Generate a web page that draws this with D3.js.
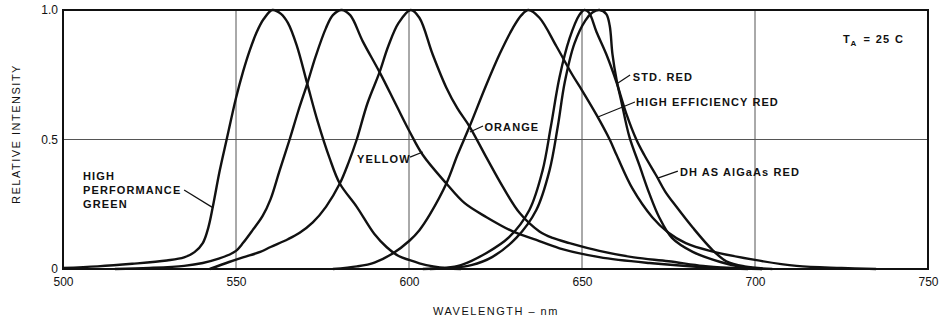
<!DOCTYPE html>
<html>
<head>
<meta charset="utf-8">
<script src="https://cdn.jsdelivr.net/npm/d3@7"></script>
<style>
  body { margin: 0; background: #fff; }
  text { font-family: "Liberation Sans", Arial, sans-serif; fill: #111; }
</style>
</head>
<body>
<svg id="chart" width="940" height="321"></svg>
<script>
// wavelength ticks and relative intensity ticks
const xTicks = [500, 550, 600, 650, 700, 750];
const yTicks = [0, 0.5, 1];
const yTickLabels = ["0", "0.5", "1.0"];
const xGrid = [550, 600, 650, 700];
const yGrid = [0.5];

// spectra (nm, relative intensity)
const greenNm  = [500, 510, 520, 530, 535, 538, 540.4, 542, 543.3, 545.3, 547.3, 550, 552, 554, 556, 558, 560.5, 563, 565, 567.5, 570.7, 573.6, 577, 580, 584.9, 590, 593.5, 597, 600, 603, 607, 611, 615];
const greenRel = [0.004, 0.01, 0.02, 0.033, 0.045, 0.065, 0.10, 0.16, 0.24, 0.38, 0.5, 0.66, 0.76, 0.845, 0.915, 0.965, 1.0, 0.985, 0.95, 0.865, 0.71, 0.57, 0.43, 0.33, 0.24, 0.135, 0.085, 0.05, 0.035, 0.022, 0.01, 0.003, 0];

const yellowNm  = [515, 525, 535, 540.4, 545, 548, 550, 552, 554.8, 557.7, 560, 562.6, 565.5, 568, 570.7, 573, 576, 578, 580.5, 583, 586.6, 591.5, 596.4, 600.2, 604, 610.8, 616, 622.4, 630, 636.8, 643.5, 655, 669.5, 684, 698];
const yellowRel = [0, 0.004, 0.012, 0.023, 0.04, 0.055, 0.07, 0.1, 0.15, 0.205, 0.27, 0.38, 0.5, 0.61, 0.72, 0.82, 0.93, 0.98, 1.0, 0.98, 0.88, 0.76, 0.63, 0.53, 0.44, 0.33, 0.255, 0.2, 0.145, 0.112, 0.08, 0.046, 0.023, 0.008, 0];

const orangeNm  = [542.4, 548, 552, 557, 560, 565, 568.4, 572.2, 576, 580, 582.5, 584.9, 588, 591.5, 594, 597, 600.5, 603, 606.8, 610.8, 614, 617.5, 622.4, 627, 632, 637.7, 641.5, 646.4, 655, 665, 675, 685, 692, 702];
const orangeRel = [0, 0.027, 0.045, 0.066, 0.085, 0.115, 0.14, 0.18, 0.24, 0.33, 0.41, 0.5, 0.64, 0.76, 0.86, 0.95, 1.0, 0.97, 0.83, 0.70, 0.62, 0.55, 0.43, 0.32, 0.216, 0.145, 0.12, 0.1, 0.07, 0.045, 0.03, 0.012, 0.005, 0];

const herNm  = [578, 585, 590, 595.3, 600.2, 603, 606, 610.8, 614, 617.5, 622, 626.2, 630, 632.5, 634.5, 637.7, 642.6, 647.2, 650, 654.2, 658, 660, 664.6, 670.3, 675, 680, 687, 700, 712, 725, 735];
const herRel = [0, 0.01, 0.025, 0.06, 0.11, 0.15, 0.21, 0.33, 0.44, 0.55, 0.7, 0.83, 0.93, 0.98, 1.0, 0.97, 0.86, 0.75, 0.69, 0.595, 0.5, 0.44, 0.31, 0.2, 0.14, 0.1, 0.07, 0.035, 0.012, 0.004, 0];

const dhNm  = [604, 610, 615, 622.4, 629, 634.8, 638.6, 641, 643.5, 646.4, 649.2, 650.7, 652, 654.2, 657, 660, 662.8, 665.7, 668, 671.5, 674, 677.3, 682, 687.6, 691.7, 697, 705];
const dhRel = [0, 0.004, 0.015, 0.062, 0.124, 0.228, 0.38, 0.55, 0.74, 0.89, 0.98, 1.0, 0.99, 0.915, 0.83, 0.72, 0.6, 0.5, 0.44, 0.36, 0.3, 0.24, 0.16, 0.075, 0.03, 0.01, 0];

const stdNm  = [606, 612, 618, 624, 631, 636.8, 640.6, 643, 645, 647.8, 651, 653, 655, 657, 658, 658.8, 660, 661.4, 663.7, 666.6, 669.5, 672.3, 676, 682, 690, 696, 702];
const stdRel = [0, 0.004, 0.015, 0.046, 0.12, 0.228, 0.38, 0.55, 0.72, 0.87, 0.96, 0.99, 1.0, 0.985, 0.94, 0.83, 0.73, 0.645, 0.51, 0.4, 0.29, 0.2, 0.12, 0.066, 0.027, 0.008, 0];

const series = [
  [greenNm, greenRel], [yellowNm, yellowRel], [orangeNm, orangeRel],
  [herNm, herRel], [dhNm, dhRel], [stdNm, stdRel]
].map(([nm, rel]) => nm.map((w, i) => ({ nm: w, rel: rel[i] })));

const svg = d3.select("#chart");
const plotLeft = 63, plotRight = 928, plotTop = 10, plotBottom = 269;

const x = d3.scaleLinear().domain([500, 750]).range([plotLeft, plotRight]);
const y = d3.scaleLinear().domain([0, 1]).range([plotBottom, plotTop]);

svg.append("rect").attr("width", 940).attr("height", 321).attr("fill", "#fff");

// grid
svg.append("g").selectAll("line").data(xGrid).join("line")
  .attr("x1", d => x(d)).attr("x2", d => x(d))
  .attr("y1", plotTop).attr("y2", plotBottom)
  .attr("stroke", "#555").attr("stroke-width", 1);
svg.append("g").selectAll("line").data(yGrid).join("line")
  .attr("x1", plotLeft).attr("x2", plotRight)
  .attr("y1", d => y(d)).attr("y2", d => y(d))
  .attr("stroke", "#555").attr("stroke-width", 1);

// axes (labels only, frame drawn separately)
const xAxis = svg.append("g")
  .attr("transform", `translate(0,${plotBottom})`)
  .call(d3.axisBottom(x).tickValues(xTicks).tickSize(0).tickPadding(8.5).tickFormat(d3.format("d")));
const yAxis = svg.append("g")
  .attr("transform", `translate(${plotLeft},0)`)
  .call(d3.axisLeft(y).tickValues(yTicks).tickSize(0).tickPadding(5)
    .tickFormat((d, i) => yTickLabels[i]));
[xAxis, yAxis].forEach(g => {
  g.select(".domain").remove();
  g.selectAll("text").attr("font-size", 12).attr("fill", "#111")
    .style("font-family", "'Liberation Sans', Arial, sans-serif");
});

// curves
const line = d3.line()
  .x(d => x(d.nm)).y(d => y(d.rel))
  .curve(d3.curveCatmullRom.alpha(0.5));

svg.append("g").selectAll("path").data(series).join("path")
  .attr("d", line)
  .attr("fill", "none")
  .attr("stroke", "#111")
  .attr("stroke-width", 2.4)
  .attr("stroke-linejoin", "round");

// frame
svg.append("rect")
  .attr("x", plotLeft).attr("y", plotTop)
  .attr("width", plotRight - plotLeft).attr("height", plotBottom - plotTop)
  .attr("fill", "none").attr("stroke", "#111").attr("stroke-width", 2);

// annotations in data units: label lines and leader lines
const labels = [
  { lines: ["HIGH", "PERFORMANCE", "GREEN"], nm: 505.8, rel: 0.344, lead: [[535, 0.305], [543.4, 0.236]] },
  { lines: ["YELLOW"], nm: 585, rel: 0.41, lead: [[600.3, 0.432], [604, 0.452]] },
  { lines: ["ORANGE"], nm: 621.8, rel: 0.533, lead: [[621.4, 0.552], [617.6, 0.529]] },
  { lines: ["STD. RED"], nm: 664.7, rel: 0.726, lead: [[663.9, 0.749], [660.4, 0.718]] },
  { lines: ["HIGH EFFICIENCY RED"], nm: 665.6, rel: 0.629, lead: [[665.3, 0.645], [654.6, 0.587]] },
  { lines: ["DH AS AlGaAs RED"], nm: 678.3, rel: 0.359, lead: [[677.7, 0.378], [671.9, 0.351]] }
];

const ann = svg.append("g");
labels.forEach(l => {
  const t = ann.append("text")
    .attr("x", x(l.nm)).attr("y", y(l.rel))
    .attr("font-size", 11).attr("font-weight", "bold")
    .attr("letter-spacing", 1.1);
  l.lines.forEach((s, i) => {
    t.append("tspan").attr("x", x(l.nm)).attr("dy", i === 0 ? 0 : 14).text(s);
  });
  ann.append("line")
    .attr("x1", x(l.lead[0][0])).attr("y1", y(l.lead[0][1]))
    .attr("x2", x(l.lead[1][0])).attr("y2", y(l.lead[1][1]))
    .attr("stroke", "#111").attr("stroke-width", 1.2);
});

// T_A = 25 C
const ta = ann.append("text")
  .attr("x", x(725.4)).attr("y", y(0.873))
  .attr("font-size", 11).attr("font-weight", "bold").attr("letter-spacing", 1);
ta.append("tspan").text("T");
ta.append("tspan").attr("font-size", 8).attr("dy", 3).text("A");
ta.append("tspan").attr("dy", -3).attr("dx", 6).text("=");
ta.append("tspan").attr("dx", 5).text("25");
ta.append("tspan").attr("dx", 5).text("C");

// axis titles
svg.append("text")
  .attr("x", 496).attr("y", 315)
  .attr("text-anchor", "middle")
  .attr("font-size", 11).attr("letter-spacing", 1.5)
  .text("WAVELENGTH – nm");

svg.append("text")
  .attr("transform", "translate(20,134) rotate(-90)")
  .attr("text-anchor", "middle")
  .attr("font-size", 11).attr("letter-spacing", 1.5)
  .text("RELATIVE INTENSITY");
</script>
</body>
</html>
